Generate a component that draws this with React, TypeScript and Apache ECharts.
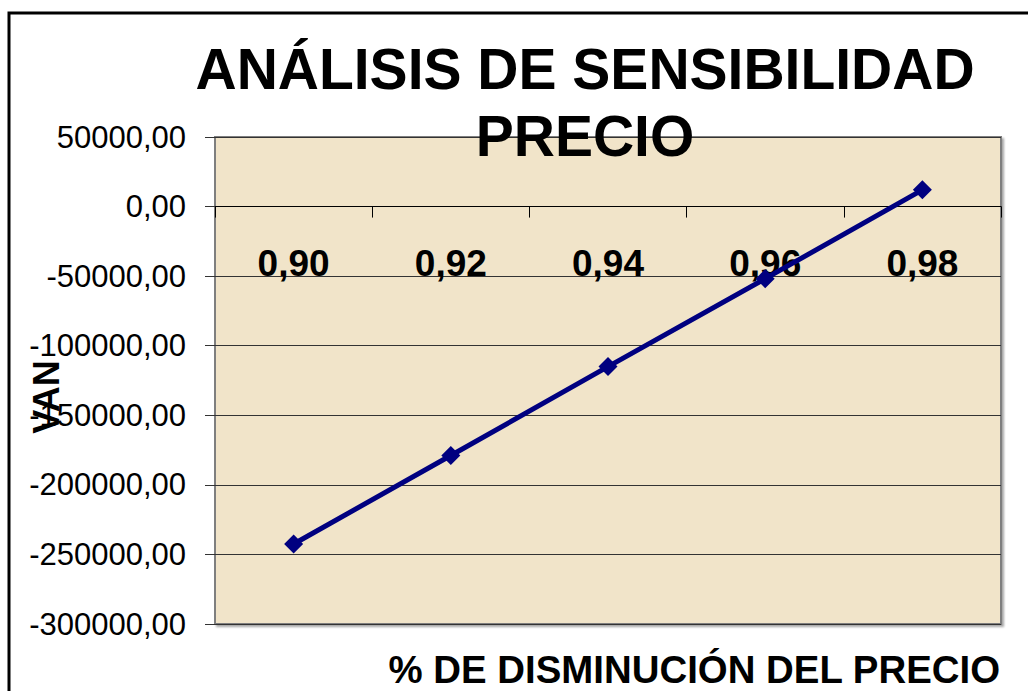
import React, { useEffect, useRef } from "react";
import * as echarts from "echarts";

const categories = ["0,90", "0,92", "0,94", "0,96", "0,98"];
const vanValues = [-242500, -178900, -115000, -51800, 12000];
const yMin = -300000;
const yMax = 50000;
const yStep = 50000;

const FONT = '"Liberation Sans", Arial, sans-serif';

export default function App() {
  const ref = useRef<HTMLDivElement>(null);

  useEffect(() => {
    if (!ref.current) return;
    const chart = echarts.init(ref.current, undefined, { renderer: "svg" });
    const plotTop = 137;
    const plotBottom = 624;
    const zeroY = plotTop + ((yMax - 0) / (yMax - yMin)) * (plotBottom - plotTop);
    chart.setOption({
      animation: false,
      backgroundColor: "#ffffff",
      title: {
        text: "ANÁLISIS DE SENSIBILIDAD\nPRECIO",
        left: 580,
        top: 30,
        textAlign: "center",
        textStyle: {
          fontFamily: FONT,
          fontWeight: "bold",
          fontSize: 57,
          lineHeight: 67,
          color: "#000",
        },
        z: 10,
      },
      grid: {
        left: 215,
        top: plotTop,
        right: 27,
        bottom: 691 - plotBottom,
        outerBoundsMode: "none",
        containLabel: false,
        show: true,
        backgroundColor: "#f1e4c9",
        borderColor: "#7f7f7f",
        borderWidth: 2,
        shadowColor: "rgba(0,0,0,0.35)",
        shadowOffsetX: 2,
        shadowOffsetY: 2,
        shadowBlur: 2,
      },
      xAxis: {
        type: "category",
        data: categories,
        boundaryGap: true,
        offset: -(plotBottom - zeroY),
        axisLine: { onZero: false, lineStyle: { color: "#000", width: 1 } },
        axisTick: { show: true, length: 11, inside: false, lineStyle: { color: "#000" } },
        axisLabel: {
          margin: 38,
          fontFamily: FONT,
          fontWeight: "bold",
          fontSize: 37,
          color: "#000",
        },
        splitLine: { show: false },
      },
      yAxis: {
        type: "value",
        min: yMin,
        max: yMax,
        interval: yStep,
        axisLine: { show: false },
        axisTick: { show: true, length: 10, lineStyle: { color: "#333" } },
        axisLabel: {
          margin: 29,
          fontFamily: FONT,
          fontSize: 31,
          color: "#000",
          formatter: (v: number) => v.toFixed(2).replace(".", ","),
        },
        splitLine: { show: true, lineStyle: { color: "#333", width: 1 } },
      },
      graphic: [
        {
          type: "rect",
          shape: { x: 9, y: 13, width: 1060, height: 720 },
          style: { fill: "none", stroke: "#000", lineWidth: 3 },
          z: 100,
        },
        {
          type: "text",
          x: 46,
          y: 397,
          rotation: Math.PI / 2,
          style: {
            text: "VAN",
            fontFamily: FONT,
            fontWeight: "bold",
            fontSize: 36,
            fill: "#000",
            textAlign: "center",
            textVerticalAlign: "middle",
          },
          z: 100,
        },
        {
          type: "text",
          x: 1000,
          y: 669.5,
          style: {
            text: "% DE DISMINUCIÓN DEL PRECIO",
            fontFamily: FONT,
            fontWeight: "bold",
            fontSize: 38.4,
            fill: "#000",
            textAlign: "right",
            textVerticalAlign: "middle",
          },
          z: 100,
        },
      ],
      series: [
        {
          type: "line",
          data: vanValues,
          symbol: "diamond",
          symbolSize: 19,
          lineStyle: { color: "#000080", width: 5 },
          itemStyle: { color: "#000080" },
          z: 5,
        },
      ],
    });
    return () => chart.dispose();
  }, []);

  return (
    <div
      ref={ref}
      style={{ position: "fixed", left: 0, top: 0, width: 1028, height: 691 }}
    />
  );
}
